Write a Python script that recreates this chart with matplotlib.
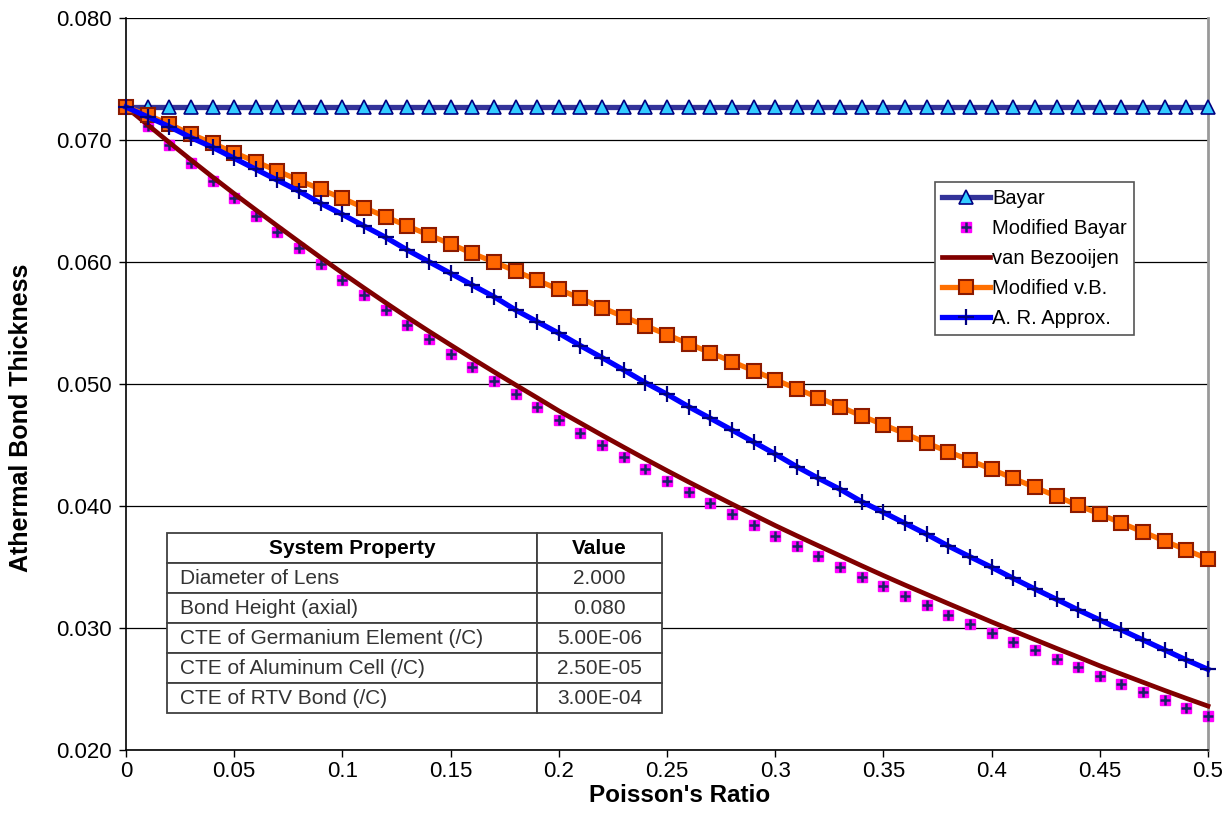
import numpy as np
import matplotlib.pyplot as plt
from matplotlib.ticker import FuncFormatter

# ************************************ DATA ************************************
poisson = np.round(np.arange(0, 51) * 0.01, 2)

bayar = [0.0727] * 51

mod_bayar = [0.0727, 0.07115, 0.06959, 0.06809, 0.06664, 0.06522, 0.0638, 0.06243, 0.06112, 0.05984,
             0.05852, 0.05727, 0.05607, 0.05484, 0.05366, 0.05246, 0.05142, 0.05025, 0.04918, 0.04814,
             0.04705, 0.04601, 0.045, 0.04404, 0.04306, 0.04207, 0.04115, 0.04027, 0.03934, 0.03844,
             0.03754, 0.03672, 0.0359, 0.03504, 0.03416, 0.03344, 0.03262, 0.03186, 0.03107, 0.0303,
             0.02957, 0.02885, 0.0282, 0.02746, 0.02678, 0.02607, 0.02541, 0.02478, 0.0241, 0.02342,
             0.02281]

van_bez = [0.0727, 0.07125, 0.0698, 0.06837, 0.06697, 0.0656, 0.06427, 0.06295, 0.06165, 0.06036,
           0.0591, 0.05787, 0.05666, 0.05547, 0.05432, 0.0532, 0.05209, 0.051, 0.04993, 0.04887,
           0.0478, 0.0468, 0.0458, 0.04482, 0.04385, 0.0429, 0.04197, 0.04106, 0.04016, 0.03928,
           0.0384, 0.03756, 0.03674, 0.03592, 0.0351, 0.0343, 0.03352, 0.03276, 0.032, 0.03125,
           0.0305, 0.02977, 0.02905, 0.02833, 0.02762, 0.0269, 0.02622, 0.02555, 0.02488, 0.02423,
           0.0236]

mod_vb = [0.0727, 0.07205, 0.07129, 0.07049, 0.06973, 0.06896, 0.06822, 0.06746, 0.0667, 0.06596,
          0.06522, 0.06445, 0.06371, 0.06295, 0.06221, 0.06148, 0.06071, 0.060, 0.05926, 0.0585,
          0.05776, 0.05702, 0.05625, 0.05552, 0.05478, 0.05404, 0.0533, 0.05257, 0.05183, 0.05109,
          0.05035, 0.04961, 0.04888, 0.04814, 0.04738, 0.04666, 0.04593, 0.04516, 0.04445, 0.04375,
          0.04301, 0.04227, 0.04153, 0.0408, 0.04006, 0.03934, 0.0386, 0.03787, 0.03713, 0.03639,
          0.03566]

ar_approx = [0.0727, 0.0719, 0.0711, 0.0702, 0.0694, 0.0685, 0.0676, 0.0667, 0.0658, 0.0648,
             0.0639, 0.06295, 0.06202, 0.06098, 0.06002, 0.05907, 0.05811, 0.05716, 0.05607, 0.05511,
             0.05416, 0.05314, 0.05216, 0.05115, 0.05011, 0.04916, 0.04814, 0.04719, 0.04623, 0.04525,
             0.04426, 0.04322, 0.04227, 0.04137, 0.04035, 0.03948, 0.03858, 0.03768, 0.03672, 0.03584,
             0.03498, 0.03407, 0.0332, 0.03235, 0.03148, 0.03066, 0.02984, 0.02902, 0.0282, 0.02738,
             0.02661]

table_props = ['Diameter of Lens', 'Bond Height (axial)', 'CTE of Germanium Element (/C)',
               'CTE of Aluminum Cell (/C)', 'CTE of RTV Bond (/C)']
table_vals = ['2.000', '0.080', '5.00E-06', '2.50E-05', '3.00E-04']

# ************************************ PLOT ************************************
plt.rcParams['font.family'] = ['Liberation Sans', 'DejaVu Sans']

fig = plt.figure(figsize=(12.3, 8.33), dpi=100)
ax = fig.add_axes([126 / 1230, 83 / 833, 1082 / 1230, 732 / 833])

h1, = ax.plot(poisson, bayar, color='#333399', lw=3.8, marker='^', ms=9.5,
              mfc='#33CCFF', mec='#000080', mew=1.2, clip_on=False, zorder=3)
h2a, = ax.plot(poisson, mod_bayar, ls='none', marker='s', ms=7.3, mfc='#FF00FF', mec='#FF00FF',
               clip_on=False, zorder=3)
h2b, = ax.plot(poisson, mod_bayar, ls='none', marker='+', ms=6.5, mec='#1A2466', mew=1.8,
               clip_on=False, zorder=3)
h3, = ax.plot(poisson, van_bez, color='#800000', lw=3.4, clip_on=False, zorder=4)
h4, = ax.plot(poisson, mod_vb, color='#FF7000', lw=3.8, marker='s', ms=9.5,
              mfc='#FF6600', mec='#8B1A00', mew=1.5, clip_on=False, zorder=5)
h5, = ax.plot(poisson, ar_approx, color='#0000FF', lw=3.8, marker='+', ms=12,
              mec='#000080', mew=1.6, clip_on=False, zorder=6)

ax.set_xlim(0, 0.5)
ax.set_ylim(0.02, 0.08)
ax.set_xticks(np.arange(0, 0.501, 0.05))
ax.set_yticks(np.arange(0.02, 0.0801, 0.01))
ax.xaxis.set_major_formatter(FuncFormatter(lambda v, p: f'{round(v, 2):g}'))
ax.yaxis.set_major_formatter(FuncFormatter(lambda v, p: f'{v:.3f}'))
ax.tick_params(direction='out', length=5, width=1, labelsize=16, pad=5, color='black')
ax.tick_params(axis='x', pad=3)

ax.grid(axis='y', color='black', lw=0.9, zorder=1)
ax.set_axisbelow(True)
ax.spines['top'].set_visible(False)
ax.spines['right'].set_color('#999999')
ax.spines['right'].set_linewidth(2)
ax.spines['left'].set_linewidth(1.2)
ax.spines['bottom'].set_linewidth(1.2)

ax.set_xlabel("Poisson's Ratio", fontsize=17.5, fontweight='bold', va='center')
ax.xaxis.set_label_coords((680 - 126) / 1082, (750 - 796) / 732)
ax.set_ylabel('Athermal Bond Thickness', fontsize=18, fontweight='bold', va='center')
ax.yaxis.set_label_coords((21 - 126) / 1082, (750 - 418) / 732)

leg = ax.legend([h1, (h2a, h2b), h3, h4, h5],
                ['Bayar', 'Modified Bayar', 'van Bezooijen', 'Modified v.B.', 'A. R. Approx.'],
                loc='upper left', bbox_to_anchor=((935 - 126) / 1082, (750 - 182) / 732),
                borderaxespad=0, fontsize=14.5, numpoints=1, handlelength=2.4,
                handletextpad=0.1, labelspacing=0.55, borderpad=0.35,
                fancybox=False, framealpha=1, edgecolor='#555555')
leg.get_frame().set_linewidth(1.2)
leg.set_zorder(10)

cells = [[p, v] for p, v in zip(table_props, table_vals)]
tbl = ax.table(cellText=cells, colLabels=['System Property', 'Value'],
               colWidths=[0.747, 0.253], cellLoc='center',
               bbox=[(167 - 126) / 1082, (750 - 713) / 732, 495 / 1082, 180 / 732])
tbl.auto_set_font_size(False)
tbl.set_fontsize(15)
tbl.set_zorder(8)
for (r, c), cell in tbl.get_celld().items():
    cell.set_edgecolor('#404040')
    cell.set_linewidth(1.3)
    cell.set_facecolor('white')
    cell.get_text().set_color('#333333')
    if r == 0:
        cell.get_text().set_fontweight('bold')
        cell.get_text().set_color('black')
    elif c == 0:
        cell.get_text().set_ha('left')
        cell.PAD = 0.035
        cell._loc = 'left'

fig.savefig('out.png', dpi=100)
